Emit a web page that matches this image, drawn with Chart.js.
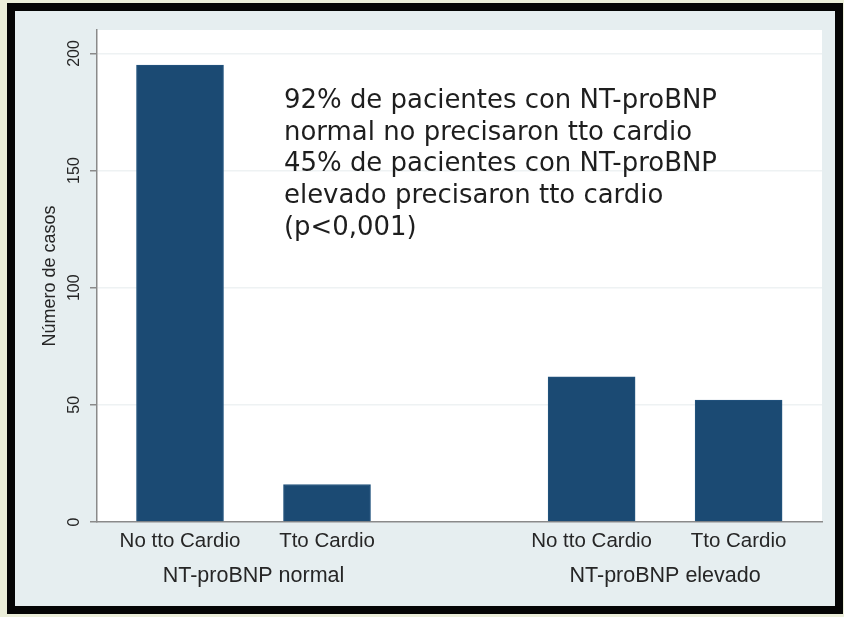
<!DOCTYPE html>
<html>
<head>
<meta charset="utf-8">
<script src="https://cdn.jsdelivr.net/npm/chart.js@4/dist/chart.umd.min.js"></script>
<style>
    html, body { margin: 0; padding: 0; background: #ebeed9; }
    body { width: 844px; height: 617px; position: relative; overflow: hidden; }
    #marco {
        position: absolute; left: 7px; top: 3px;
        width: 836px; height: 611px;
        box-sizing: border-box;
        border: 8px solid #050505;
        background: #e6eef0;
    }
    #grafica { position: absolute; left: 0; top: 0; }
</style>
</head>
<body>
<div id="marco"><canvas id="grafica" width="820" height="595"></canvas></div>
<script>
/* ==========================================================
   DATOS
========================================================== */
const categorias = ["No tto Cardio", "Tto Cardio", "No tto Cardio", "Tto Cardio"];
const posiciones = [1, 2, 3.8, 4.8];
const casos = [195, 16, 62, 52];

const grupos = ["NT-proBNP normal", "NT-proBNP elevado"];
const posGrupos = [1.5, 4.3];

const ticksY = [0, 50, 100, 150, 200];

const nota = [
    "92% de pacientes con NT-proBNP",
    "normal no precisaron tto cardio",
    "45% de pacientes con NT-proBNP",
    "elevado precisaron tto cardio",
    "(p<0,001)"
];

const AZUL = "#1b4a73";
const GRIS = "#8a8a8a";
const TEXTO = "#262626";
const FUENTE = "'Liberation Sans', Arial, sans-serif";

/* ==========================================================
   PLUGINS
========================================================== */
const fondoBlanco = {
    id: "fondoBlanco",
    beforeDraw(chart) {
        const { ctx, chartArea: a } = chart;
        ctx.save();
        ctx.fillStyle = "#ffffff";
        ctx.fillRect(a.left, a.top, a.right - a.left, a.bottom - a.top);
        ctx.restore();
    }
};

const etiquetasY = {
    id: "etiquetasY",
    afterDraw(chart) {
        const { ctx } = chart;
        const y = chart.scales.y;
        ctx.save();
        ctx.fillStyle = TEXTO;
        ctx.font = "16px " + FUENTE;
        ctx.textAlign = "center";
        ctx.textBaseline = "middle";
        y.ticks.forEach(t => {
            const py = y.getPixelForValue(t.value);
            ctx.save();
            ctx.translate(y.right - 22, py);
            ctx.rotate(-Math.PI / 2);
            ctx.fillText(String(t.value), 0, 0);
            ctx.restore();
        });
        ctx.restore();
    }
};

const textoNota = {
    id: "textoNota",
    afterDraw(chart) {
        const { ctx, chartArea: a } = chart;
        ctx.save();
        ctx.fillStyle = "#1e1e1e";
        let tam = 26;
        ctx.font = tam + "px 'DejaVu Sans', sans-serif";
        const w = ctx.measureText(nota[0]).width;
        tam = tam * 433 / w;
        ctx.font = tam.toFixed(2) + "px 'DejaVu Sans', sans-serif";
        ctx.textAlign = "left";
        ctx.textBaseline = "middle";
        nota.forEach((linea, i) => {
            ctx.fillText(linea, a.left + 187, a.top + 71 + i * 31.8);
        });
        ctx.restore();
    }
};

/* ==========================================================
   GRAFICA
========================================================== */
const minX = 1 - 83 / 147;
const maxX = minX + 725 / 147;

new Chart(document.getElementById("grafica"), {
    type: "bar",
    data: {
        datasets: [{
            data: posiciones.map((p, i) => ({ x: p, y: casos[i] })),
            backgroundColor: AZUL,
            borderColor: "#24557f",
            borderWidth: 1,
            barThickness: 87
        }]
    },
    options: {
        responsive: false,
        animation: false,
        layout: { padding: { top: 19, right: 13, bottom: 0, left: 0 } },
        plugins: {
            legend: { display: false },
            tooltip: { enabled: false }
        },
        scales: {
            x: {
                type: "linear",
                offset: false,
                min: minX,
                max: maxX,
                afterBuildTicks: s => { s.ticks = posiciones.map(v => ({ value: v })); },
                afterFit: s => { s.height = 38; },
                grid: { display: false, offset: false, tickLength: 0 },
                border: { display: true, color: GRIS, width: 1.5 },
                ticks: {
                    padding: 7,
                    maxRotation: 0,
                    autoSkip: false,
                    color: TEXTO,
                    font: { family: FUENTE, size: 20.5 },
                    callback: v => categorias[posiciones.indexOf(v)]
                }
            },
            x2: {
                type: "linear",
                position: "bottom",
                offset: false,
                min: minX,
                max: maxX,
                afterBuildTicks: s => { s.ticks = posGrupos.map(v => ({ value: v })); },
                afterFit: s => { s.height = 46; },
                grid: { display: false, offset: false, tickLength: 0 },
                border: { display: false },
                ticks: {
                    padding: 3,
                    maxRotation: 0,
                    autoSkip: false,
                    color: TEXTO,
                    font: { family: FUENTE, size: 21.5 },
                    callback: v => grupos[posGrupos.indexOf(v)]
                }
            },
            y: {
                min: 0,
                max: 210,
                afterBuildTicks: s => { s.ticks = ticksY.map(v => ({ value: v })); },
                afterFit: s => { s.width = 82; },
                grid: {
                    color: "#eef2f3",
                    tickColor: GRIS,
                    tickLength: 7,
                    lineWidth: 1.5
                },
                border: { color: GRIS, width: 1.5 },
                ticks: { display: false },
                title: {
                    display: true,
                    text: "Número de casos",
                    color: TEXTO,
                    font: { family: FUENTE, size: 18 },
                    padding: { top: 24, bottom: 0 }
                }
            }
        }
    },
    plugins: [fondoBlanco, etiquetasY, textoNota]
});
</script>
</body>
</html>
